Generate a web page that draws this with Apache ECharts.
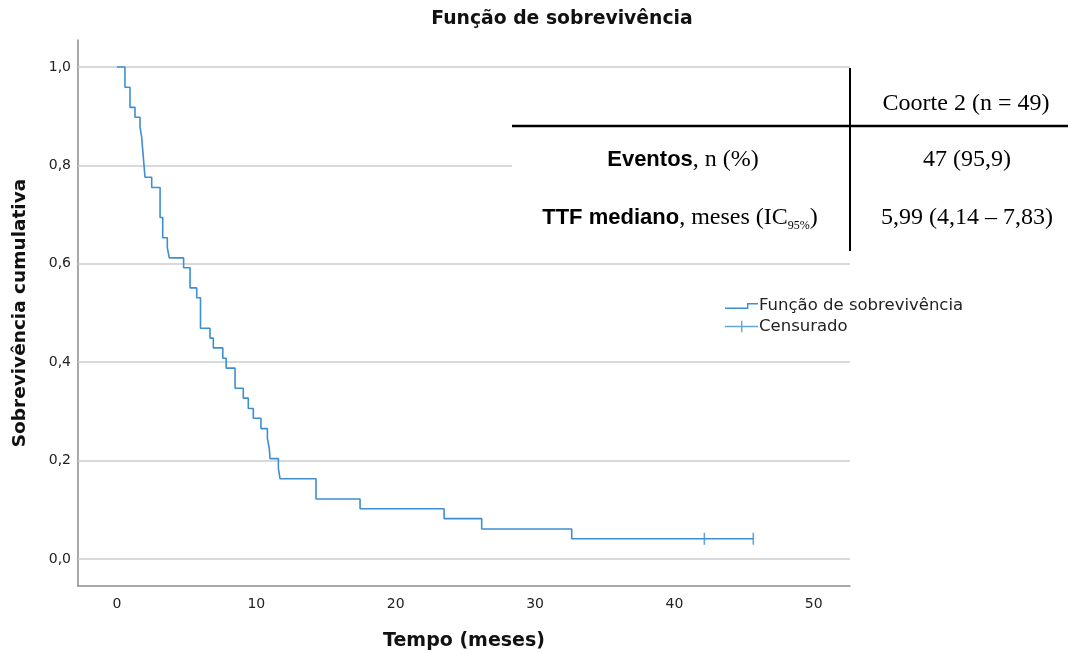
<!DOCTYPE html>
<html>
<head>
<meta charset="utf-8">
<script src="https://cdn.jsdelivr.net/npm/echarts@6/dist/echarts.min.js"></script>
<style>
  html, body { margin: 0; padding: 0; background: #fff; }
  #container { width: 1075px; height: 653px; }
</style>
</head>
<body>
<div id="container"></div>
<script>
// Kaplan-Meier steps (time in months, cumulative survival)
const stepTimes = [0, 0.57, 0.93, 1.29, 1.65, 1.77, 1.89, 2.01, 2.49, 3.09, 3.28, 3.61, 3.75,
    4.78, 5.24, 5.72, 5.99, 6.67, 6.91, 7.59, 7.83, 8.47, 9.06, 9.42, 9.78, 10.33, 10.79,
    10.93, 10.98, 11.58, 11.70, 14.28, 17.44, 23.47, 26.17, 32.63, 45.66];
const stepSurvival = [1, 0.959, 0.918, 0.898, 0.878, 0.857, 0.816, 0.776, 0.755, 0.694, 0.653,
    0.633, 0.612, 0.592, 0.551, 0.531, 0.469, 0.449, 0.429, 0.408, 0.388, 0.347, 0.327, 0.306,
    0.286, 0.265, 0.245, 0.224, 0.204, 0.184, 0.163, 0.122, 0.102, 0.082, 0.061, 0.041, 0.041];
const censorTimes = [42.15, 45.66];
const censorSurvival = [0.041, 0.041];

const xTicks = [0, 10, 20, 30, 40, 50];
const yTicks = [0, 0.2, 0.4, 0.6, 0.8, 1.0];

const seriesNames = ['Função de sobrevivência', 'Censurado'];

const blue = '#3d8fd1';
const sansFont = 'DejaVu Sans';

let dom = document.getElementById('container');
let myChart = echarts.init(dom);

let curveData = stepTimes.map(function (t, i) { return [t, stepSurvival[i]]; });
let censorData = censorTimes.map(function (t, i) { return [t, censorSurvival[i]]; });

// legend icons, drawn as thin filled outlines inside a 33x12 box
let stepIcon = 'path://M0,8 L22,8 L22,3.6 L33,3.6 L33,5 L23.4,5 L23.4,9.4 L0,9.4 Z M0,0 L0.01,0 L0,0.01 Z M33,12 L32.99,12 L33,11.99 Z';
let crossIcon = 'path://M0,5.3 L33,5.3 L33,6.7 L0,6.7 Z M16,0.3 L17.4,0.3 L17.4,11.7 L16,11.7 Z M0,0 L0.01,0 L0,0.01 Z M33,12 L32.99,12 L33,11.99 Z';

let serif = 'Liberation Serif';
let arial = 'Liberation Sans';
let tableRich = {
    b: { fontFamily: arial, fontWeight: 'bold', fontSize: 22, fill: '#000', lineHeight: 28 },
    t: { fontFamily: serif, fontSize: 24, fill: '#000', lineHeight: 28 },
    s: { fontFamily: serif, fontSize: 12, fill: '#000', lineHeight: 28, verticalAlign: 'bottom' }
};

let option = {
    backgroundColor: '#fff',
    animation: false,
    title: {
        text: 'Função de sobrevivência',
        left: 557,
        top: 5,
        textAlign: 'center',
        textStyle: { fontFamily: sansFont, fontWeight: 'bold', fontSize: 18.8, color: '#111' }
    },
    legend: {
        orient: 'vertical',
        left: 725,
        top: 297,
        padding: 0,
        itemWidth: 33,
        itemHeight: 12,
        itemGap: 4,
        selectedMode: false,
        itemStyle: { borderWidth: 0 },
        textStyle: { fontFamily: sansFont, fontSize: 16.5, color: '#222', padding: [0, 0, 0, -4] },
        data: [
            { name: seriesNames[0], icon: stepIcon },
            { name: seriesNames[1], icon: crossIcon }
        ]
    },
    grid: {
        left: 78,
        top: 40,
        width: 772,
        height: 546,
        containLabel: false,
        outerBoundsMode: 'none'
    },
    xAxis: {
        type: 'value',
        min: -2.8,
        max: 52.6,
        name: 'Tempo (meses)',
        nameLocation: 'middle',
        nameGap: 46,
        nameTextStyle: { fontFamily: sansFont, fontWeight: 'bold', fontSize: 19, color: '#111' },
        axisLine: { show: true, onZero: false, lineStyle: { color: '#8c8c8c', width: 1.5 } },
        axisTick: { show: false },
        splitLine: { show: false },
        axisLabel: {
            customValues: xTicks,
            margin: 11,
            fontFamily: sansFont,
            fontSize: 14,
            color: '#222'
        }
    },
    yAxis: {
        type: 'value',
        min: -0.055,
        max: 1.055,
        name: 'Sobrevivência cumulativa',
        nameLocation: 'middle',
        nameGap: 48,
        nameTextStyle: { fontFamily: sansFont, fontWeight: 'bold', fontSize: 18.5, color: '#111' },
        axisLine: { show: true, onZero: false, lineStyle: { color: '#8c8c8c', width: 1.5 } },
        axisTick: { show: false },
        splitLine: { show: false },
        axisLabel: {
            customValues: yTicks,
            margin: 7,
            fontFamily: sansFont,
            fontSize: 14,
            color: '#222',
            formatter: function (v) { return v.toFixed(1).replace('.', ','); }
        }
    },
    series: [
        {
            name: seriesNames[0],
            type: 'line',
            step: 'end',
            symbol: 'none',
            data: curveData,
            lineStyle: { color: blue, width: 1.6 },
            itemStyle: { color: blue },
            z: 3,
            markLine: {
                silent: true,
                symbol: 'none',
                z: 1,
                label: { show: false },
                lineStyle: { color: '#cdcdcd', width: 1.5, type: 'solid' },
                data: yTicks.map(function (v) { return { yAxis: v }; })
            }
        },
        {
            name: seriesNames[1],
            type: 'scatter',
            symbol: 'rect',
            symbolSize: [1.6, 12],
            data: censorData,
            itemStyle: { color: blue },
            z: 4
        }
    ],
    graphic: [
        // the summary table pasted over the plot
        { type: 'rect', z: 10, shape: { x: 512, y: 71, width: 563, height: 184 }, style: { fill: '#fff' } },
        { type: 'line', z: 11, shape: { x1: 512, y1: 126, x2: 1068, y2: 126 }, style: { stroke: '#000', lineWidth: 2.5 } },
        { type: 'line', z: 11, shape: { x1: 850, y1: 68, x2: 850, y2: 251 }, style: { stroke: '#000', lineWidth: 2 } },
        { type: 'text', z: 11, x: 966, y: 104, style: { text: '{t|Coorte 2 (n = 49)}', rich: tableRich, align: 'center', verticalAlign: 'middle' } },
        { type: 'text', z: 11, x: 683, y: 160, style: { text: '{b|Eventos}{t|, n (%)}', rich: tableRich, align: 'center', verticalAlign: 'middle' } },
        { type: 'text', z: 11, x: 967, y: 160, style: { text: '{t|47 (95,9)}', rich: tableRich, align: 'center', verticalAlign: 'middle' } },
        { type: 'text', z: 11, x: 680, y: 218, style: { text: '{b|TTF mediano}{t|, meses (IC}{s|95%}{t|)}', rich: tableRich, align: 'center', verticalAlign: 'middle' } },
        { type: 'text', z: 11, x: 967, y: 218, style: { text: '{t|5,99 (4,14 – 7,83)}', rich: tableRich, align: 'center', verticalAlign: 'middle' } }
    ]
};

myChart.setOption(option);
</script>
</body>
</html>
